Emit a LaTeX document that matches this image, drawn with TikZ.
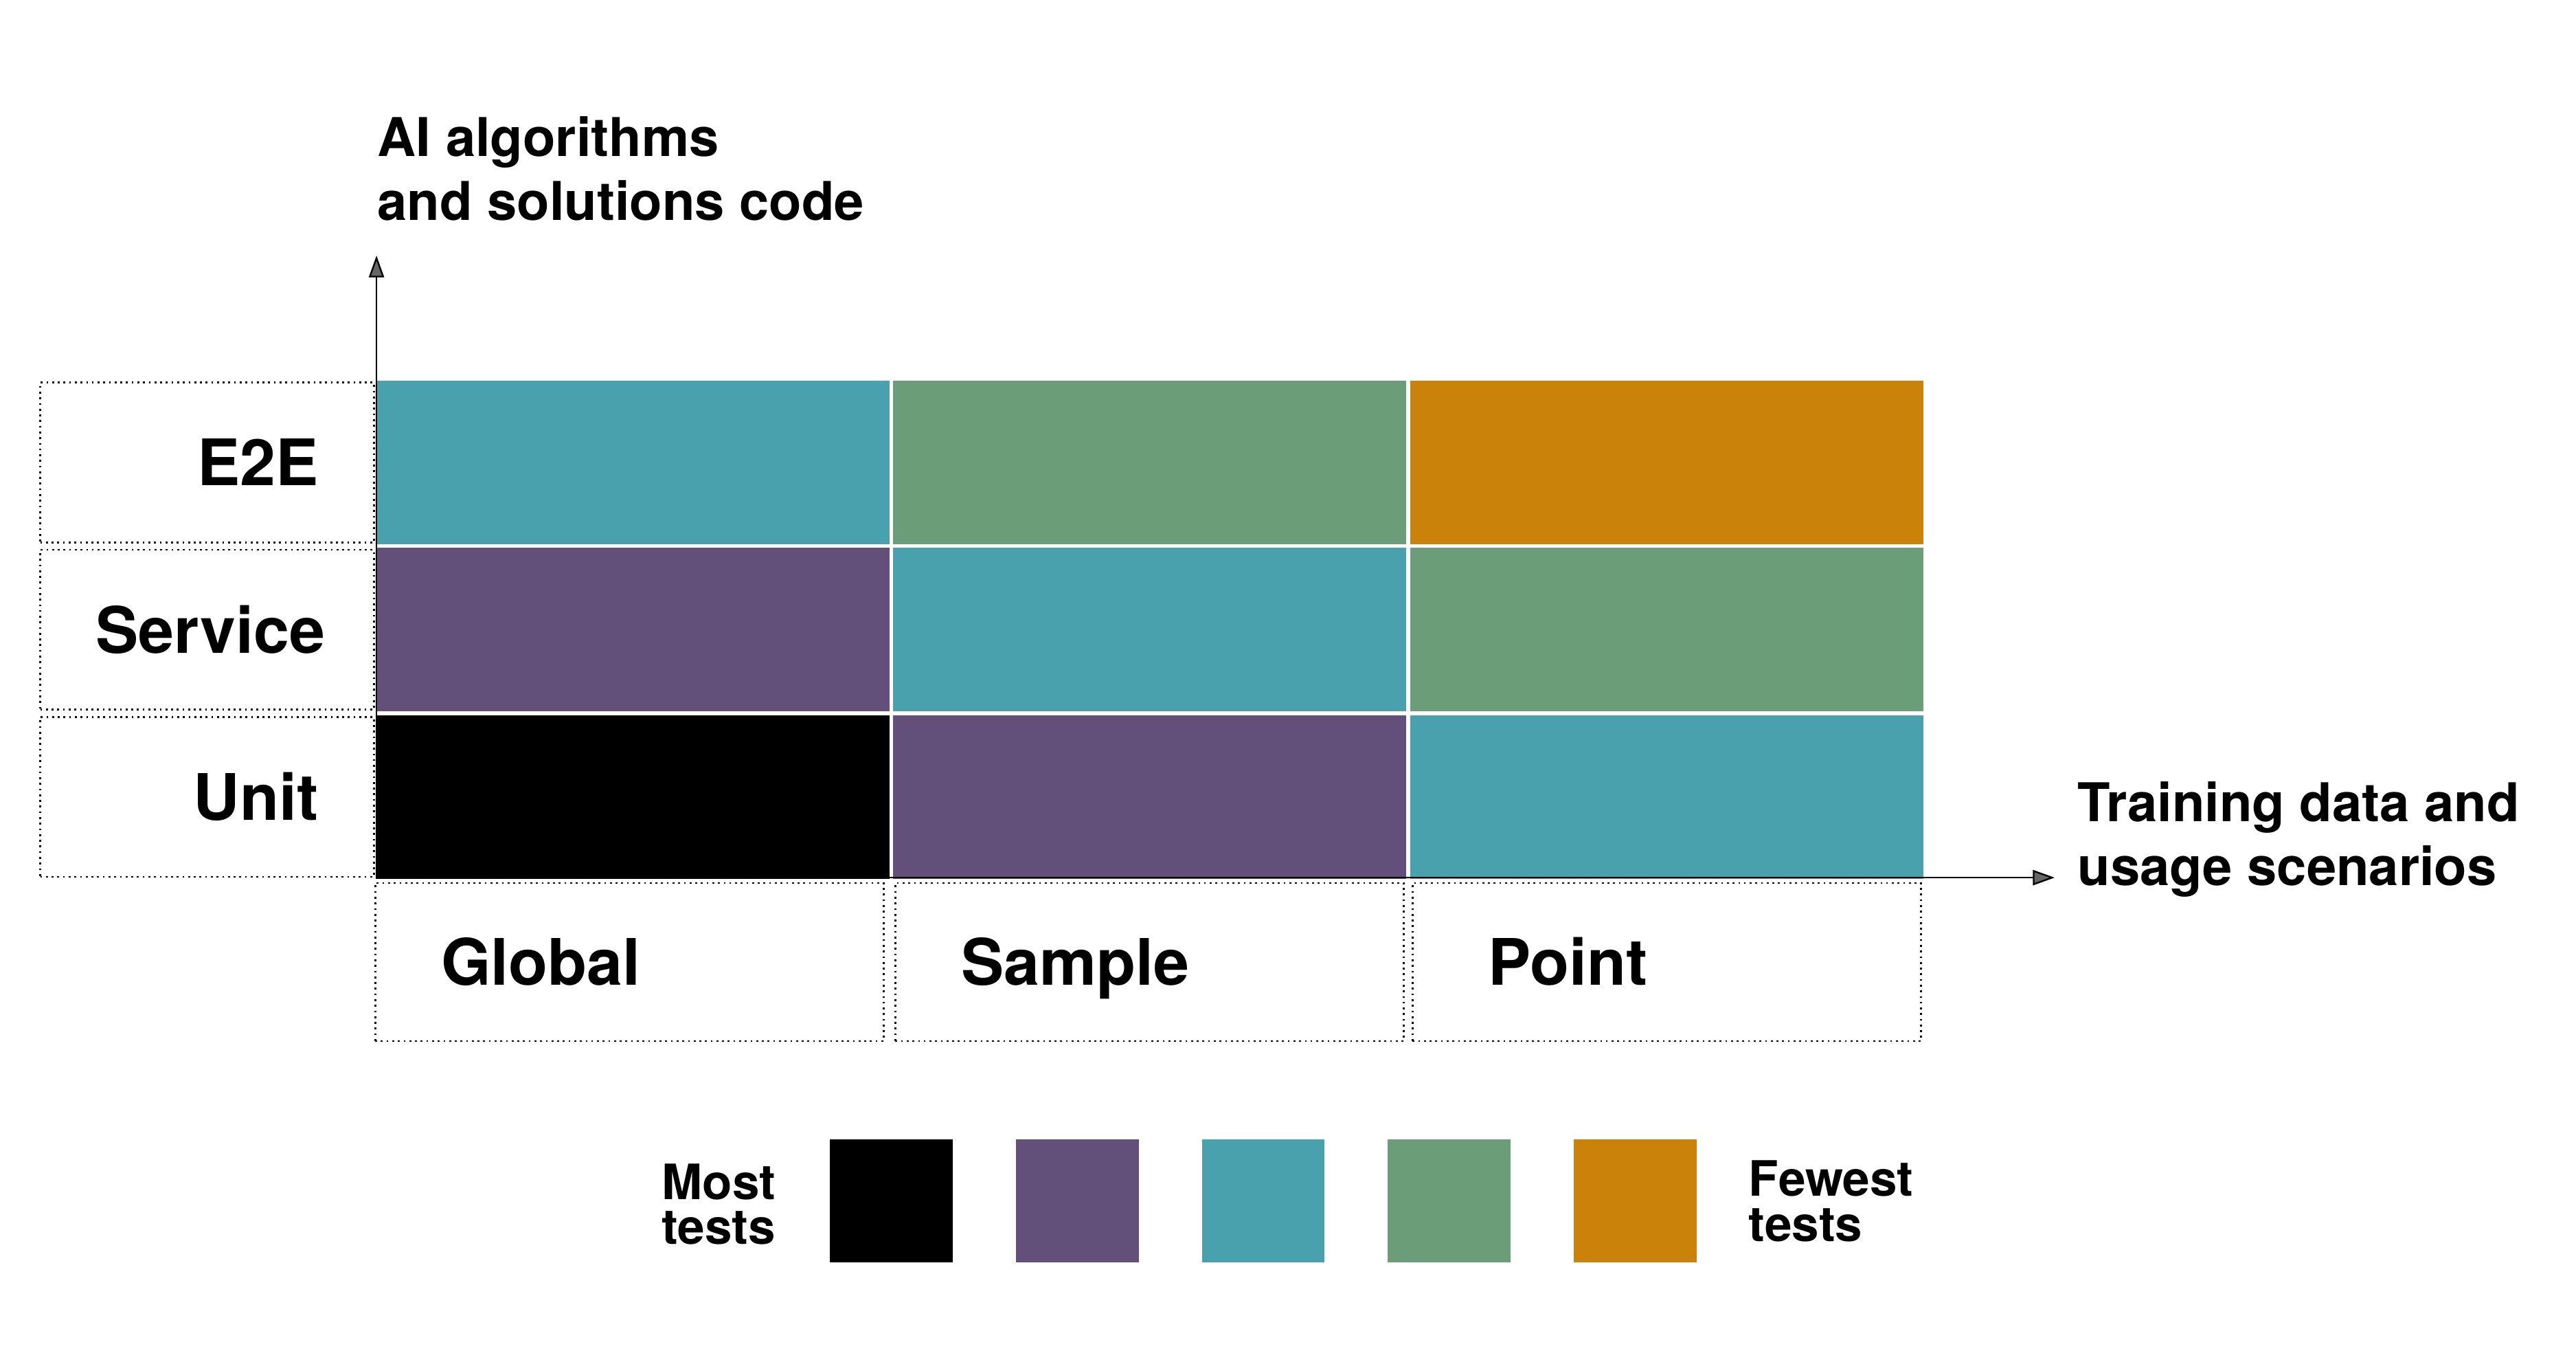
\documentclass[tikz,border=0pt]{standalone}
\usepackage{fontspec}
\setmainfont{TeX Gyre Heros}
\usetikzlibrary{arrows.meta,positioning}
\definecolor{cteal}{HTML}{48A1AC}
\definecolor{cgreen}{HTML}{6B9E78}
\definecolor{corange}{HTML}{CB820B}
\definecolor{cpurple}{HTML}{62507B}
\definecolor{arrowgray}{HTML}{666666}

\begin{document}
\begin{tikzpicture}
\tikzstyle{cell}=[rectangle, draw=white, line width=1.5pt,
inner sep=0pt, outer sep=0pt,
minimum width=7.83cm, minimum height=2.53cm]
\tikzstyle{rowlabel}=[rectangle, draw=black, line width=0.8pt,
dash pattern=on 0.8pt off 1.65pt,
inner xsep=0.84cm, inner ysep=0pt, outer sep=0pt,
text width=3.37cm, align=right, minimum height=2.42cm,
text height=19.9pt, text depth=0pt,
font=\fontsize{27.6}{32}\selectfont\bfseries]
\tikzstyle{collabel}=[rectangle, draw=black, line width=0.8pt,
dash pattern=on 0.8pt off 1.65pt,
inner xsep=1.0cm, inner ysep=0pt, outer sep=0pt,
text width=5.7cm, align=left, minimum height=2.39cm,
text height=19.9pt, text depth=0pt,
font=\fontsize{27.6}{32}\selectfont\bfseries]
\tikzstyle{swatch}=[rectangle, inner sep=0pt, minimum size=1.86cm]
\tikzstyle{axislabel}=[align=left, inner sep=0pt,
font=\fontsize{23}{27.6}\selectfont\bfseries]
\tikzstyle{legendlabel}=[align=left, inner sep=0pt,
font=\fontsize{21}{19.5}\selectfont\bfseries]
\tikzstyle{axis}=[line width=0.7pt,
-{Triangle[length=0.33cm,width=0.23cm,fill=arrowgray]}]

\useasboundingbox (0,0) rectangle (39,20.6125);

% grid of test levels
\node[cell, fill=cteal, anchor=north west] at (5.66,14.877) (e1) {};
\node[cell, fill=cgreen, right=0cm of e1] (e2) {};
\node[cell, fill=corange, right=0cm of e2] (e3) {};
\node[cell, fill=cpurple, below=0cm of e1] (s1) {};
\node[cell, fill=cteal, right=0cm of s1] (s2) {};
\node[cell, fill=cgreen, right=0cm of s2] (s3) {};
\node[cell, fill=black, below=0cm of s1] (u1) {};
\node[cell, fill=cpurple, right=0cm of u1] (u2) {};
\node[cell, fill=cteal, right=0cm of u2] (u3) {};

% row and column labels
\node[rowlabel, left=0cm of e1] (le) {E2E};
\node[rowlabel, left=0cm of s1] (ls) {Service};
\node[rowlabel, left=0cm of u1] (lu) {Unit};
\node[collabel, minimum width=7.7cm, below=0.04cm of u1, xshift=-0.045cm] (cg) {Global};
\node[collabel, minimum width=7.7cm, below=0.04cm of u2] (cs) {Sample};
\node[collabel, minimum width=7.7cm, below=0.04cm of u3,
inner xsep=1.15cm, text width=5.4cm] (cp) {Point};

% axes
\coordinate (origin) at (5.70,7.33);
\coordinate (ytip) at (5.70,16.744);
\coordinate (xtip) at (31.106,7.33);
\draw[axis] (origin) -- (ytip);
\draw[axis] (origin) -- (xtip);
\node[axislabel, anchor=north west] at (5.71,18.86) (ylab) {AI algorithms\\and solutions code};
\node[axislabel, anchor=north west] at (31.45,8.79) (xlab) {Training data and\\usage scenarios};

% legend
\node[swatch, fill=black] at (13.497,2.437) (k1) {};
\node[swatch, fill=cpurple, right=0.94cm of k1] (k2) {};
\node[swatch, fill=cteal, right=0.94cm of k2] (k3) {};
\node[swatch, fill=cgreen, right=0.94cm of k3] (k4) {};
\node[swatch, fill=corange, right=0.94cm of k4] (k5) {};
\node[legendlabel, left=0.81cm of k1, yshift=-0.05cm] (most) {Most\\tests};
\node[legendlabel, right=0.78cm of k5] (fewest) {Fewest\\tests};

\end{tikzpicture}
\end{document}
